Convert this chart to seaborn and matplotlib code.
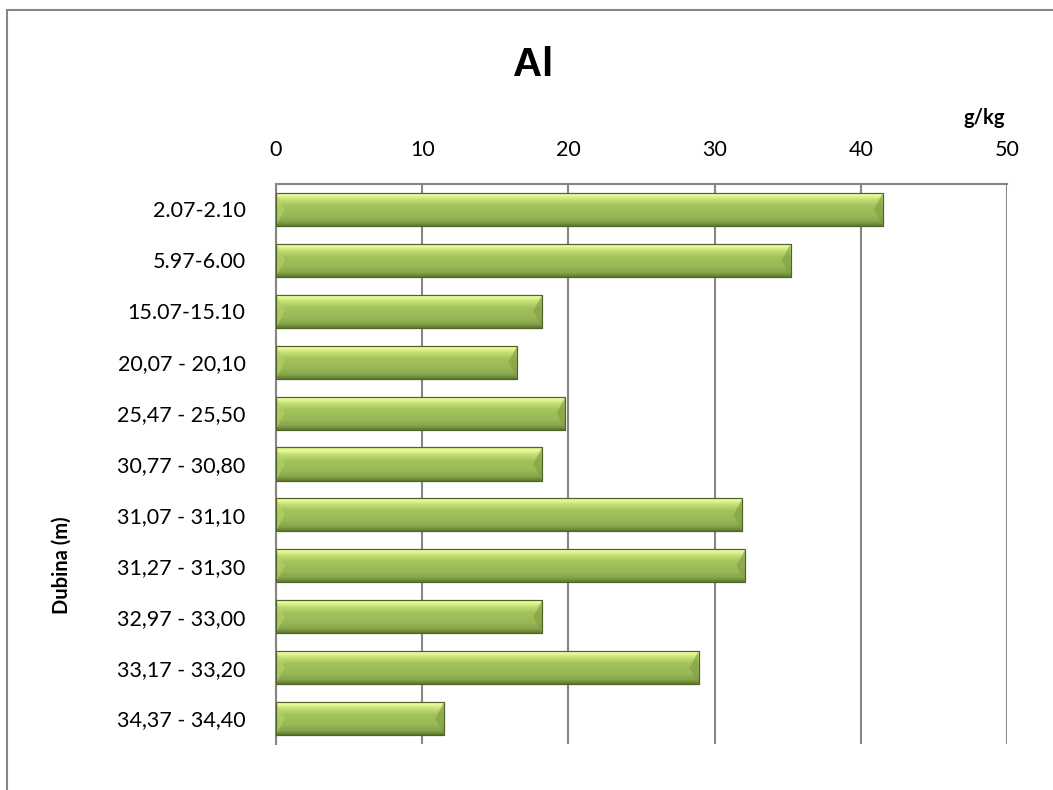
import numpy as np
import matplotlib
matplotlib.use("Agg")
import matplotlib.pyplot as plt
from matplotlib.colors import LinearSegmentedColormap
from matplotlib.patches import Rectangle, Polygon
import seaborn as sns

# --------------------------
# DATA
# --------------------------
depths = ["2.07-2.10", "5.97-6.00", "15.07-15.10", "20,07 - 20,10",
          "25,47 - 25,50", "30,77 - 30,80", "31,07 - 31,10", "31,27 - 31,30",
          "32,97 - 33,00", "33,17 - 33,20", "34,37 - 34,40"]
al_values = [41.5, 35.2, 18.2, 16.5, 19.8, 18.2, 31.9, 32.1, 18.2, 28.9, 11.5]
x_ticks = [0, 10, 20, 30, 40, 50]

sns.set_theme(style="white")
plt.rcParams["font.family"] = ["Lato", "DejaVu Sans"]
plt.rcParams["text.color"] = "black"

fig = plt.figure(figsize=(10.53, 7.9), dpi=100)
ax = fig.add_axes([0.2621, 0.0582, 0.6942, 0.7089])

sns.barplot(x=al_values, y=depths, orient="h", color="#9bbb59",
            width=0.65, edgecolor="#4f6228", linewidth=0.8, ax=ax, zorder=3)

# bevel-like vertical gradient on each bar
bevel = LinearSegmentedColormap.from_list(
    "bevel", [(0.0, "#c6e06e"), (0.08, "#eefaa0"), (0.22, "#c3df72"),
              (0.4, "#a2c25c"), (0.7, "#98b856"), (0.88, "#86a44a"),
              (1.0, "#5e7a30")])
grad = np.linspace(0, 1, 80).reshape(-1, 1)
for p in ax.patches:
    x0, y0 = p.get_x(), p.get_y()
    w, h = p.get_width(), p.get_height()
    im = ax.imshow(grad, cmap=bevel, aspect="auto", zorder=3.5,
                   extent=[x0, x0 + w, y0 + h, y0], origin="upper")
    im.set_clip_path(p)
    # light bevel on the left end, shaded bevel on the right end
    d = 0.6
    ax.add_patch(Polygon([(x0, y0), (x0 + d, y0 + h / 2), (x0, y0 + h)],
                         closed=True, facecolor="#b5d368", edgecolor="none",
                         alpha=0.6, zorder=3.7))
    ax.add_patch(Polygon([(x0 + w, y0), (x0 + w - d, y0 + h / 2), (x0 + w, y0 + h)],
                         closed=True, facecolor="#7f9c45", edgecolor="none",
                         alpha=0.6, zorder=3.7))
    ax.add_patch(Rectangle((x0, y0), w, h, fill=False, edgecolor="#4f6228",
                           linewidth=0.8, zorder=4))

ax.set_xlim(0, 50)
ax.set_ylim(len(depths) - 0.5, -0.5)
ax.set_xticks(x_ticks)
ax.xaxis.tick_top()
ax.grid(axis="x", color="#868686", linewidth=1.5, zorder=0)
ax.set_axisbelow(True)
ax.tick_params(axis="x", length=0, pad=17, labelsize=15.5, colors="black")
ax.tick_params(axis="y", length=0, pad=22, labelsize=15.5, colors="black")
for s in ["right", "bottom"]:
    ax.spines[s].set_visible(False)
for s in ["left", "top"]:
    ax.spines[s].set_color("#868686")
    ax.spines[s].set_linewidth(1.5)
ax.set_xlabel("")
ax.set_ylabel("")

fig.text(0.506, 0.918, "Al", fontsize=29, fontweight="bold", color="black",
         family=["Liberation Sans", "DejaVu Sans"], ha="center", va="center")
fig.text(0.935, 0.851, "g/kg", fontsize=14.5, fontweight="bold", color="black",
         ha="center", va="center")
fig.text(0.059, 0.285, "Dubina (m)", fontsize=14.5, fontweight="bold", color="black",
         rotation=90, ha="center", va="center")

# outer chart border (left and top visible)
fig.patches.append(Rectangle((7 / 1053, -0.05), 1.2, 1.05 - 10 / 790,
                             transform=fig.transFigure, fill=False,
                             edgecolor="#868686", linewidth=1.5))

fig.savefig("out.png", dpi=100)
